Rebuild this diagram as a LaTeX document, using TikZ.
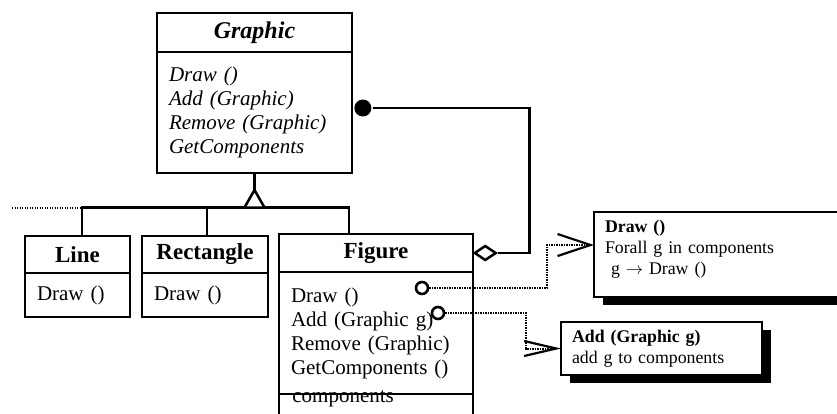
\documentclass[tikz,border=0pt]{standalone}
\usepackage{fontspec}
\setmainfont{Liberation Serif}
\usetikzlibrary{positioning, arrows.meta, shapes.geometric, shadows}

\begin{document}
\begin{tikzpicture}[x=1pt, y=-1pt, line width=2.7pt,
  head/.style={draw, outer sep=0pt, inner sep=0pt, align=center, font=\fontsize{23}{26}\selectfont\bfseries},
  body/.style={draw, outer sep=0pt, inner xsep=12pt, inner ysep=0pt, align=left, font=\fontsize{21}{24}\selectfont},
  note/.style={draw, fill=white, outer sep=0pt, inner xsep=11pt, inner ysep=0pt, align=left, font=\fontsize{17.8}{21}\selectfont, drop shadow={shadow xshift=9pt, shadow yshift=-8pt, fill=black, opacity=1}},
  link/.style={line width=2pt, dash pattern=on 1.4pt off 1.1pt},
  port/.style={circle, draw, fill=white, line width=2.6pt, minimum size=12pt, inner sep=0pt},
  ball/.style={circle, fill, minimum size=17pt, inner sep=0pt},
  hollow/.style={diamond, draw, fill=white, line width=2.5pt, minimum width=22pt, minimum height=15pt, inner sep=0pt}]
\useasboundingbox (0,0) rectangle (837,413);
\clip (0,0) rectangle (837,413);

\node[head, font=\fontsize{24}{26}\selectfont\bfseries\itshape, minimum width=195pt, minimum height=39pt] (graphic) at (254.5,32.5) {Graphic};
\node[body, font=\fontsize{21}{24}\selectfont\itshape, text width=171pt, minimum height=121pt, below=0pt of graphic] (graphicops) {Draw ()\\Add (Graphic)\\Remove (Graphic)\\GetComponents};

\node[head, minimum width=105pt, minimum height=37pt] (line) at (77.5,254.5) {Line};
\node[body, text width=81pt, minimum height=44pt, below=0pt of line] (lineops) {Draw ()};
\node[head, minimum width=126pt, minimum height=37pt, right=12pt of line] (rect) {Rectangle};
\node[body, text width=102pt, minimum height=44pt, below=0pt of rect] (rectops) {Draw ()};

\node[head, minimum width=194pt, minimum height=38pt] (figure) at (376,253) {Figure};
\node[body, text width=170pt, minimum height=122pt, below=0pt of figure] (figureops) {Draw ()\\Add (Graphic g)\\Remove (Graphic)\\GetComponents ()};
\node[anchor=base west, inner sep=0pt, font=\fontsize{21}{24}\selectfont] (components) at ([shift={(12pt,-8pt)}]figureops.south west) {components};
\node[body, text width=170pt, minimum height=70pt, below=0pt of figureops] (figurestate) {};

\coordinate (apex) at ([yshift=-17pt]graphicops.south);
\coordinate (join) at ([yshift=-34.5pt]graphicops.south);
\coordinate (barend) at (12,207.5);
\coordinate (barleft) at (82,207.5);
\coordinate (barmid) at (207,207.5);
\coordinate (barright) at (349,207.5);
\draw[link] (barend) -- (barleft);
\draw (barleft |- line.north) -- (barleft) -- (barright) -- (barright |- figure.north);
\draw (barmid) -- (barmid |- rect.north);
\draw (graphicops) -- (apex);
\draw[fill=white, line width=2.5pt] (apex) -- ([xshift=-10pt]join) -- ([xshift=10pt]join) -- cycle;

\node[ball, anchor=west] (whole) at ([shift={(1pt,4.5pt)}]graphicops.east) {};
\node[hollow, anchor=west] (part) at (figure.east) {};
\draw (whole) -| ([xshift=32pt]part.east) -- (part);

\node[note, text width=240pt, minimum height=85pt, anchor=north west] (drawnote) at (594,212) {\textbf{Draw ()}\\Forall g in components\\\hspace*{6pt}g $\rightarrow$ Draw ()\rule[-13.5pt]{0pt}{1pt}};
\node[note, text width=179pt, minimum height=53pt, anchor=north west] (addnote) at (561,322) {\textbf{Add (Graphic g)}\\add g to components};

\node[port] (drawport) at (422,288) {};
\node[port] (addport) at (438,313) {};
\coordinate (drawtip) at ([yshift=9.5pt]drawnote.west);
\draw[link, -{Straight Barb[length=33pt, width=22pt, line width=2.2pt]}] (drawport) -| ([xshift=-47pt]drawtip) -- (drawtip);
\draw[link, -{Straight Barb[length=32pt, width=15pt, line width=2.2pt]}] (addport) -| ([xshift=-35pt]addnote.west) -- (addnote.west);
\end{tikzpicture}
\end{document}
